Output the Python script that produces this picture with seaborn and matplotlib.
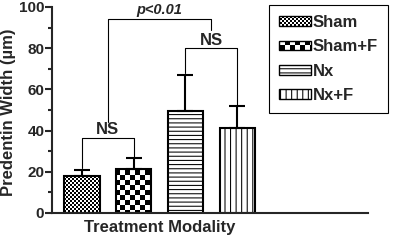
import numpy as np
import matplotlib
matplotlib.use("Agg")
import matplotlib.pyplot as plt
import matplotlib.patches as mpatches
import matplotlib.hatch as mhatch
from matplotlib.path import Path
import seaborn as sns

groups = ["Sham", "Sham+F", "Nx", "Nx+F"]
means = [18, 21.5, 49.5, 41.5]
sd = [3, 5, 17.5, 10.5]
hatches = [".", "O", "----", "|||"]

# significance brackets: x left, x right, y left end, y right end, y top, label
brackets = [
    (0.0, 1.0, 22, 27, 36.5, "NS"),
    (2.0, 3.0, 68, 52.5, 80, "NS"),
    (0.5, 2.5, 44, 89, 94, "p<0.01"),
]

HATCH_LW = 0.75


class Checker(mhatch.HatchPatternBase):
    # checkerboard hatch: '.' fine, 'O' coarse
    def __init__(self, hatch, density):
        if hatch.count("."):
            self.n = 50
        elif hatch.count("O"):
            self.n = 20
        else:
            self.n = 0
        self.num_vertices = (self.n * self.n // 2) * 5

    def set_vertices_and_codes(self, vertices, codes):
        n = self.n
        s = 1.0 / n
        pad = HATCH_LW / 72 / 2
        ii, jj = np.meshgrid(np.arange(n), np.arange(n))
        m = (ii + jj) % 2 == 0
        x0 = ii[m] * s + pad
        y0 = jj[m] * s + pad
        x1 = x0 + s - 2 * pad
        y1 = y0 + s - 2 * pad
        v = np.stack([np.stack([x0, y0], 1), np.stack([x1, y0], 1),
                      np.stack([x1, y1], 1), np.stack([x0, y1], 1),
                      np.stack([x0, y0], 1)], 1).reshape(-1, 2)
        c = np.tile([Path.MOVETO, Path.LINETO, Path.LINETO, Path.LINETO,
                     Path.CLOSEPOLY], len(x0))
        vertices[:] = v
        codes[:] = c


mhatch._hatch_types = [mhatch.HorizontalHatch, mhatch.VerticalHatch, Checker]

sns.set_style("ticks")
plt.rcParams["font.family"] = ["Liberation Sans", "DejaVu Sans"]
plt.rcParams["font.weight"] = "bold"
plt.rcParams["hatch.linewidth"] = HATCH_LW

fig = plt.figure(figsize=(3.97, 2.42), dpi=100)
ax = fig.add_axes([52 / 397, 29 / 242, 316 / 397, 206 / 242])

sns.barplot(x=groups, y=means, color="white", edgecolor="black",
            linewidth=1.5, width=0.68, saturation=1, errorbar=None, ax=ax)
for p, h in zip(ax.patches, hatches):
    p.set_hatch(h)
    p.set_facecolor("white")

xs = np.arange(len(groups))
ax.errorbar(xs, means, yerr=[np.zeros(len(sd)), sd], fmt="none",
            ecolor="black", elinewidth=1.5, capsize=5.8, capthick=1.5,
            zorder=1)

for xl, xr, yl, yr, yt, lab in brackets:
    ax.plot([xl, xl, xr, xr], [yl, yt, yt, yr], color="black", lw=0.8,
            clip_on=False)
    if lab.startswith("p"):
        ax.text((xl + xr) / 2, yt + 1.0, lab, ha="center", va="bottom",
                fontsize=10.5, fontweight="bold", fontstyle="italic")
    else:
        ax.text((xl + xr) / 2, yt + 0.3, lab, ha="center", va="bottom",
                fontsize=12, fontweight="bold")

ax.set_xlim(-0.58, 5.53)
ax.set_ylim(0, 100)
ax.set_yticks(range(0, 101, 20))
ax.set_yticks(range(10, 100, 20), minor=True)
ax.tick_params(axis="y", which="major", length=5, width=1.5, labelsize=11,
               pad=0.5)
ax.tick_params(axis="y", which="minor", length=3, width=1.5)
ax.tick_params(axis="x", length=0, labelbottom=False)
for s in ["left", "bottom"]:
    ax.spines[s].set_linewidth(1.5)
sns.despine(ax=ax)

ax.set_ylabel("Predentin Width (µm)", fontsize=12, fontweight="bold")
ax.yaxis.set_label_coords((9 - 52) / 316, 0.49)
ax.yaxis.label.set_va("center")
ax.set_xlabel("Treatment Modality", fontsize=12, fontweight="bold")
xmin, xmax = ax.get_xlim()
ax.xaxis.set_label_coords((1.5 - xmin) / (xmax - xmin), -0.035)
ax.xaxis.label.set_va("top")

handles = [mpatches.Patch(facecolor="white", edgecolor="black", lw=1.0,
                          hatch=h, label=g) for g, h in zip(groups, hatches)]
leg = fig.legend(handles=handles, loc="upper right",
                 bbox_to_anchor=(388 / 397, 1 - 5 / 242),
                 bbox_transform=fig.transFigure, borderaxespad=0,
                 fancybox=False, framealpha=1, edgecolor="black",
                 prop={"weight": "bold", "size": 12},
                 handlelength=1.95, handleheight=0.5, handletextpad=0.1,
                 labelspacing=0.56, borderpad=0.6)
leg.get_frame().set_linewidth(0.8)

fig.savefig("out.png", dpi=100)
